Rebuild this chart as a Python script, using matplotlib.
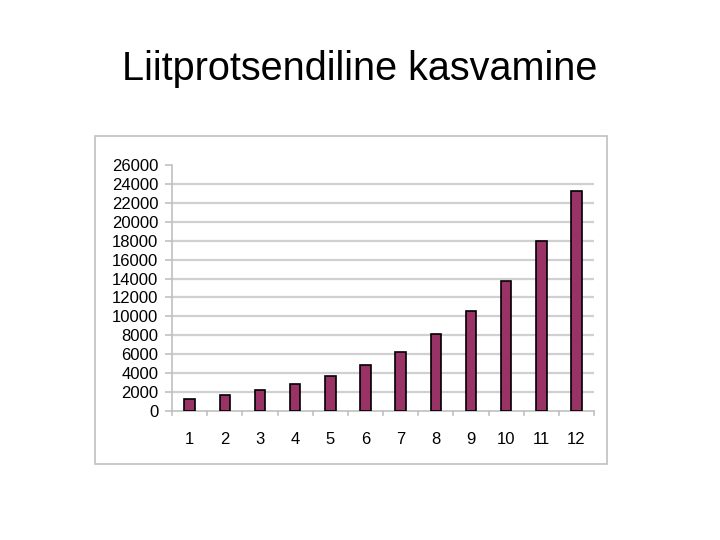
import matplotlib.pyplot as plt
from matplotlib.patches import Rectangle

plt.rcParams['font.family'] = ['Liberation Sans', 'DejaVu Sans']

aastad = [1, 2, 3, 4, 5, 6, 7, 8, 9, 10, 11, 12]
summad = [1300, 1690, 2197, 2856, 3713, 4827, 6275, 8157, 10604, 13786, 17922, 23298]
y_ticks = list(range(0, 26001, 2000))

fig = plt.figure(figsize=(7.2, 5.4), dpi=100)

# outer chart frame
fig.patches.append(Rectangle((0.132, 0.1407), 0.711, 0.607, transform=fig.transFigure,
                             fill=False, edgecolor='#c0c0c0', linewidth=1.2))

fig.text(0.5, 0.872, 'Liitprotsendiline kasvamine', ha='center', va='center', fontsize=28.5)

ax = fig.add_axes([0.239, 0.2389, 0.586, 0.4556])
ax.bar(aastad, summad, width=0.3, color='#993366', edgecolor='black', linewidth=1.2, zorder=3)

ax.set_xlim(0.5, 12.5)
ax.set_ylim(0, 26000)
ax.set_yticks(y_ticks)
ax.set_yticklabels([str(t) for t in y_ticks], fontsize=12)
ax.set_xticks(aastad)
ax.set_xticklabels([str(a) for a in aastad], fontsize=12)
ax.tick_params(axis='x', length=0, pad=15)
ax.tick_params(axis='y', length=5, color='#c0c0c0', width=1.2, pad=5)

# category separator ticks below x axis
for xb in [i + 0.5 for i in range(0, 13)]:
    ax.plot([xb, xb], [0, -400], color='#c0c0c0', linewidth=1.2, clip_on=False, zorder=2)

for t in y_ticks[1:-1]:
    ax.axhline(t, color='#d0d0d0', linewidth=1.6, zorder=1)

for side in ['top', 'right']:
    ax.spines[side].set_visible(False)
ax.spines['left'].set_color('#c0c0c0')
ax.spines['bottom'].set_color('#c0c0c0')
ax.spines['left'].set_linewidth(1.2)
ax.spines['bottom'].set_linewidth(1.2)

fig.savefig('out.png', dpi=100)
